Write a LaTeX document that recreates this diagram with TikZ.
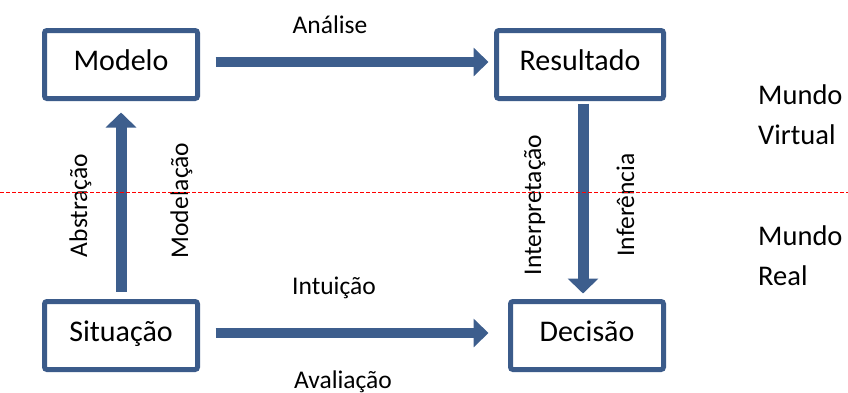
\documentclass[tikz,border=0pt]{standalone}
\usepackage{fontspec}
\setmainfont{Carlito}
\usetikzlibrary{arrows.meta,calc}
\definecolor{boxblue}{RGB}{59,91,138}
\definecolor{arrblue}{RGB}{61,94,141}
\begin{document}
\begin{tikzpicture}[x=1pt,y=-1pt,
  box/.style={draw=boxblue, line width=5pt, rounded corners=2.5pt,
    minimum width=153pt, minimum height=68pt, inner sep=0pt,
    font=\fontsize{30}{36}\selectfont, text depth=8pt},
  bigarrow/.style={draw=arrblue, line width=10pt,
    -{Triangle[length=15pt,width=28pt]}},
  vertarrow/.style={draw=arrblue, line width=11pt,
    -{Triangle[length=15pt,width=30pt]}},
  lbl/.style={font=\fontsize{25.5}{30}\selectfont, inner sep=0pt},
  world/.style={font=\fontsize{28.5}{40}\selectfont, align=left, inner sep=0pt},
  sep/.style={draw=red, line width=1pt, dash pattern=on 4pt off 2pt}]
\useasboundingbox (0,0) rectangle (848,392);

% boxes
\node[box] (mod) at (121,64.5) {Modelo};
\node[box, minimum width=167pt] (res) at (580,64.5) {Resultado};
\node[box] (sit) at (121,335.5) {Situação};
\node[box] (dec) at (587,335.5) {Decisão};

% arrows
\draw[bigarrow] ([xshift=15.5pt,yshift=2.5pt]mod.east) -- ([xshift=-5.5pt,yshift=2.5pt]res.west);
\draw[bigarrow] ([xshift=15.5pt,yshift=2.5pt]sit.east) -- ([xshift=-19.5pt,yshift=2.5pt]dec.west);
\draw[vertarrow] ([yshift=7.5pt]sit.north) -- ([yshift=-11.5pt]mod.south);
\coordinate (dtop) at ([xshift=3pt,yshift=-2.5pt]res.south);
\coordinate (dbot) at ($(dtop |- dec.north)+(0,-5.5)$);
\draw[vertarrow] (dtop) -- (dbot);

% labels
\node[lbl, anchor=base] (an) at (330,33) {Análise};
\node[lbl, anchor=base] (in) at (334,294) {Intuição};
\node[lbl, anchor=base] (av) at (343,388) {Avaliação};
\node[lbl, rotate=90, anchor=base] (ab) at (87,205.5) {Abstração};
\node[lbl, rotate=90, anchor=base] (mo) at (188,200.5) {Modelação};
\node[lbl, rotate=90, anchor=base] (ip) at (541,205) {Interpretação};
\node[lbl, rotate=90, anchor=base] (if) at (634,205) {Inferência};

% worlds
\node[world, anchor=west] (mv) at (758,115) {Mundo\\Virtual};
\node[world, anchor=west] (mr) at (758,256) {Mundo\\Real};

% separator
\coordinate (ll) at (0,192);
\coordinate (lr) at (848,192);
\draw[sep] (ll) -- (lr);
\end{tikzpicture}
\end{document}
